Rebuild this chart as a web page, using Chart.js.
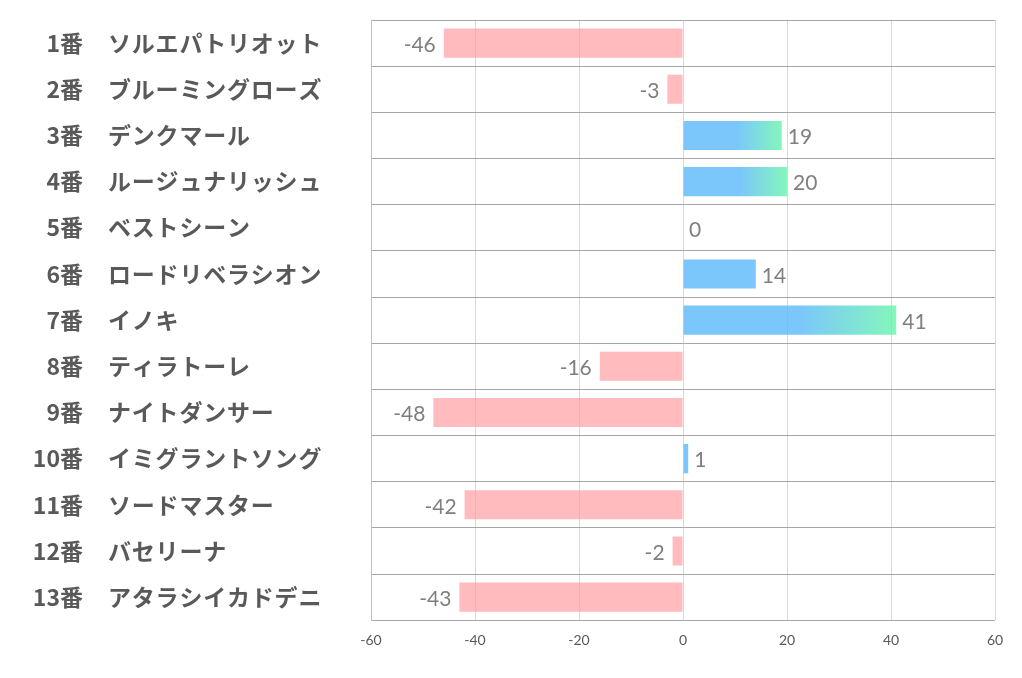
<!DOCTYPE html>
<html>
<head>
<meta charset="utf-8">
<script src="https://cdn.jsdelivr.net/npm/chart.js@4"></script>
<style>
  html, body { margin: 0; padding: 0; background: #fff; }
  #wrap { width: 1022px; height: 678px; }
</style>
</head>
<body>
<div id="wrap"><canvas id="chart"></canvas></div>
<script>
// horse numbers & names
const numbers = ["1番", "2番", "3番", "4番", "5番", "6番", "7番", "8番", "9番", "10番", "11番", "12番", "13番"];
const names = ["ソルエパトリオット", "ブルーミングローズ", "デンクマール", "ルージュナリッシュ", "ベストシーン",
  "ロードリベラシオン", "イノキ", "ティラトーレ", "ナイトダンサー", "イミグラントソング", "ソードマスター",
  "バセリーナ", "アタラシイカドデニ"];
const values = [-46, -3, 19, 20, 0, 14, 41, -16, -48, 1, -42, -2, -43];
const xTicks = [-60, -40, -20, 0, 20, 40, 60];

const PINK = "rgba(255,150,155,0.65)";
const BLUE = "rgba(90,185,250,0.8)";
const GREEN = "rgba(100,245,170,0.8)";

function barColor(ctx) {
  const v = values[ctx.dataIndex];
  if (v < 0) return PINK;
  if (v < 15) return BLUE;
  const chart = ctx.chart;
  const x = chart.scales.x;
  if (!x) return BLUE;
  const x0 = x.getPixelForValue(0);
  const x1 = x.getPixelForValue(v);
  const g = chart.ctx.createLinearGradient(x0, 0, x1, 0);
  g.addColorStop(0, BLUE);
  g.addColorStop(0.55, BLUE);
  g.addColorStop(1, GREEN);
  return g;
}

// left labels: number right aligned, name left aligned
const rowLabels = {
  id: "rowLabels",
  afterDraw(chart) {
    const c = chart.ctx, y = chart.scales.y;
    c.save();
    c.fillStyle = "#595959";
    c.font = "bold 23px 'Noto Sans CJK JP'";
    c.textBaseline = "middle";
    numbers.forEach((n, i) => {
      const py = y.getPixelForValue(i);
      c.letterSpacing = "0px";
      c.textAlign = "right";
      c.fillText(n, 83, py);
      c.letterSpacing = "0.8px";
      c.textAlign = "left";
      c.fillText(names[i], 108, py);
    });
    c.restore();
  }
};

// value labels next to bar ends
const valueLabels = {
  id: "valueLabels",
  afterDatasetsDraw(chart) {
    const c = chart.ctx;
    const meta = chart.getDatasetMeta(0);
    c.save();
    c.fillStyle = "#7f7f7f";
    c.font = "21px Lato";
    c.textBaseline = "middle";
    meta.data.forEach((bar, i) => {
      const v = values[i];
      if (v < 0) {
        c.textAlign = "right";
        c.fillText(String(v), bar.x - 8, bar.y + 2);
      } else {
        c.textAlign = "left";
        c.fillText(String(v), bar.x + 6, bar.y + 2);
      }
    });
    c.restore();
  }
};

new Chart(document.getElementById("chart"), {
  type: "bar",
  data: {
    labels: names,
    datasets: [{
      data: values,
      backgroundColor: barColor,
      borderWidth: 0,
      barPercentage: 0.63,
      categoryPercentage: 1
    }]
  },
  plugins: [rowLabels, valueLabels],
  options: {
    indexAxis: "y",
    responsive: true,
    maintainAspectRatio: false,
    animation: false,
    layout: { padding: { left: 371, right: 27, top: 20, bottom: 17 } },
    plugins: { legend: { display: false }, tooltip: { enabled: false } },
    scales: {
      x: {
        min: -60, max: 60,
        afterBuildTicks(scale) { scale.ticks = xTicks.map(v => ({ value: v })); },
        grid: { color: "#d9d9d9", lineWidth: 1, drawTicks: false },
        border: { display: false },
        ticks: { color: "#595959", font: { family: "Lato", size: 14 }, padding: 12 }
      },
      y: {
        grid: { color: "#a6a6a6", lineWidth: 1, drawTicks: false, offset: true },
        border: { display: true, color: "#bfbfbf" },
        ticks: { display: false }
      }
    }
  }
});
</script>
</body>
</html>
